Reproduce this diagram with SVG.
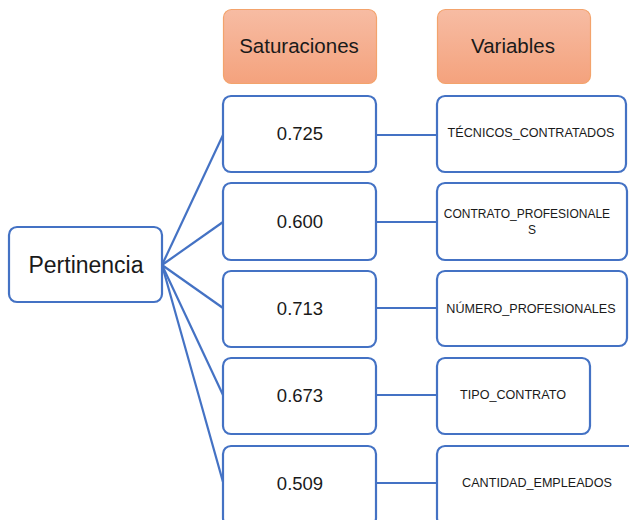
<svg xmlns="http://www.w3.org/2000/svg" width="629" height="520" viewBox="0 0 629 520">
  <defs>
    <linearGradient id="hdrFill" x1="0" y1="0" x2="0" y2="1">
      <stop offset="0" stop-color="#f7bca3"/>
      <stop offset="1" stop-color="#f4a27d"/>
    </linearGradient>
    <style>
      .hdr { fill: url(#hdrFill); stroke: #f3a36c; stroke-width: 1.2; }
      .box { fill: #ffffff; stroke: #4472c4; stroke-width: 2.2; }
      .link { stroke: #4472c4; stroke-width: 2.2; fill: none; }
      text { font-family: "Liberation Sans", Arial, sans-serif; fill: #1a1a1a; text-anchor: middle; }
      .t-hdr { font-size: 20.5px; }
      .t-root { font-size: 23px; }
      .t-val { font-size: 18.5px; }
      .t-var { font-size: 12.6px; }
      .t-var-sm { font-size: 12px; }
    </style>
  </defs>

  <!-- column headers -->
  <g id="hdr-saturaciones">
    <rect class="hdr" x="223.5" y="9.5" width="153" height="74" rx="8"/>
    <text class="t-hdr" x="299" y="53">Saturaciones</text>
  </g>
  <g id="hdr-variables">
    <rect class="hdr" x="437.5" y="9.5" width="153" height="74" rx="8"/>
    <text class="t-hdr" x="513" y="53">Variables</text>
  </g>

  <!-- connectors -->
  <g id="connectors">
    <line class="link" x1="162" y1="265" x2="223" y2="135"/>
    <line class="link" x1="162" y1="265" x2="223" y2="222"/>
    <line class="link" x1="162" y1="265" x2="223" y2="308"/>
    <line class="link" x1="162" y1="265" x2="223" y2="395"/>
    <line class="link" x1="162" y1="265" x2="223" y2="482"/>
    <line class="link" x1="376" y1="135" x2="437" y2="135"/>
    <line class="link" x1="376" y1="222" x2="437" y2="222"/>
    <line class="link" x1="376" y1="308" x2="437" y2="308"/>
    <line class="link" x1="376" y1="395" x2="437" y2="395"/>
    <line class="link" x1="376" y1="483" x2="437" y2="483"/>
  </g>

  <!-- root node -->
  <g id="pertinencia">
    <rect class="box" x="9" y="227" width="153" height="75" rx="8"/>
    <text class="t-root" x="86" y="273">Pertinencia</text>
  </g>

  <!-- loading values -->
  <g id="sat-1">
    <rect class="box" x="223" y="96" width="153" height="76" rx="8"/>
    <text class="t-val" x="300" y="140">0.725</text>
  </g>
  <g id="sat-2">
    <rect class="box" x="223" y="183" width="153" height="77" rx="8"/>
    <text class="t-val" x="300" y="228">0.600</text>
  </g>
  <g id="sat-3">
    <rect class="box" x="223" y="271" width="153" height="76" rx="8"/>
    <text class="t-val" x="300" y="315">0.713</text>
  </g>
  <g id="sat-4">
    <rect class="box" x="223" y="358" width="153" height="76" rx="8"/>
    <text class="t-val" x="300" y="402">0.673</text>
  </g>
  <g id="sat-5">
    <rect class="box" x="223" y="446" width="153" height="80" rx="8"/>
    <text class="t-val" x="300" y="490">0.509</text>
  </g>

  <!-- variable names -->
  <g id="var-1">
    <rect class="box" x="437" y="96" width="189" height="76" rx="8"/>
    <text class="t-var" x="531" y="137">TÉCNICOS_CONTRATADOS</text>
  </g>
  <g id="var-2">
    <rect class="box" x="437" y="183" width="190" height="77" rx="8"/>
    <text class="t-var-sm" x="527" y="218">CONTRATO_PROFESIONALE</text>
    <text class="t-var-sm" x="532" y="234">S</text>
  </g>
  <g id="var-3">
    <rect class="box" x="437" y="271" width="190" height="75" rx="8"/>
    <text class="t-var" x="531" y="313">NÚMERO_PROFESIONALES</text>
  </g>
  <g id="var-4">
    <rect class="box" x="437" y="358" width="153" height="76" rx="8"/>
    <text class="t-var" x="513" y="399">TIPO_CONTRATO</text>
  </g>
  <g id="var-5">
    <rect class="box" x="437" y="446" width="200" height="80" rx="8"/>
    <text class="t-var" x="537" y="487">CANTIDAD_EMPLEADOS</text>
  </g>
</svg>
